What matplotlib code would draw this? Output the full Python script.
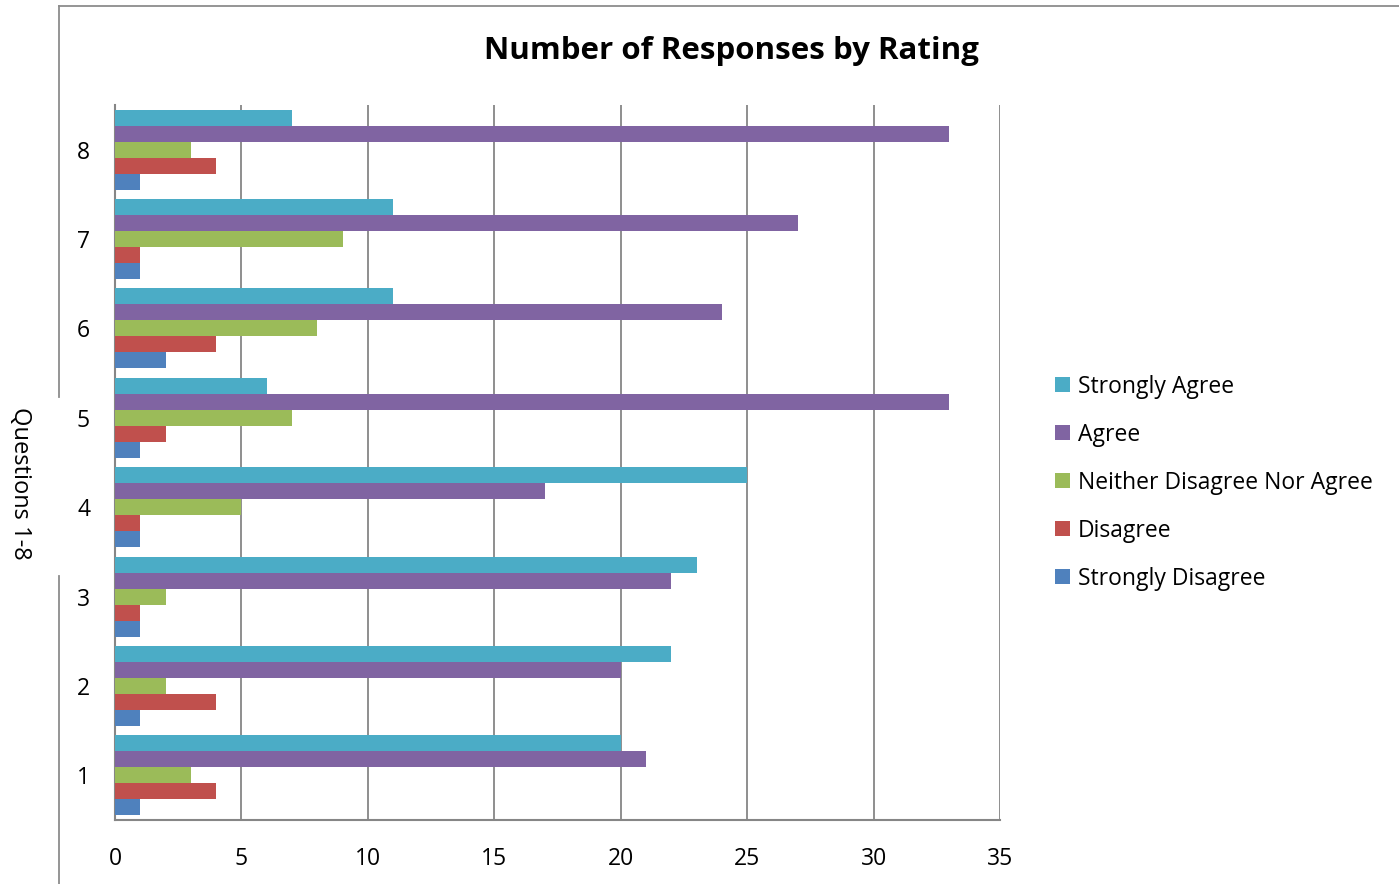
import matplotlib.pyplot as plt
import numpy as np
from matplotlib.lines import Line2D

questions = ["1", "2", "3", "4", "5", "6", "7", "8"]
series_names = ["Strongly Disagree", "Disagree", "Neither Disagree Nor Agree", "Agree", "Strongly Agree"]
strongly_disagree = [1, 1, 1, 1, 1, 2, 1, 1]
disagree = [4, 4, 1, 1, 2, 4, 1, 4]
neither = [3, 2, 2, 5, 7, 8, 9, 3]
agree = [21, 20, 22, 17, 33, 24, 27, 33]
strongly_agree = [20, 22, 23, 25, 6, 11, 11, 7]
colors = ["#4F81BD", "#C0504D", "#9BBB59", "#8064A2", "#4BACC6"]
x_ticks = [0, 5, 10, 15, 20, 25, 30, 35]

plt.rcParams['font.family'] = ['Open Sans', 'DejaVu Sans']

W, H = 1399, 884
fig = plt.figure(figsize=(W / 100, H / 100), dpi=100)
ax = fig.add_axes([115 / W, (H - 820) / H, (1000 - 115) / W, (820 - 105) / H])

data = [strongly_disagree, disagree, neither, agree, strongly_agree]
y = np.arange(len(questions))
bh = 0.179
handles = []
for i, (vals, c, name) in enumerate(zip(data, colors, series_names)):
    b = ax.barh(y + (i - 2) * bh, vals, height=bh, color=c, label=name, zorder=3)
    handles.append(b)

ax.set_xlim(0, 35)
ax.set_ylim(-0.5, 7.5)
ax.set_xticks(x_ticks)
ax.set_yticks(y)
ax.set_yticklabels(questions)
ax.tick_params(axis='both', length=0, labelsize=16.5, colors='black')
ax.tick_params(axis='x', pad=19.5)
ax.tick_params(axis='y', pad=18)
ax.xaxis.grid(True, color='#868686', linewidth=1.3, zorder=0)
for s in ['top', 'right']:
    ax.spines[s].set_visible(False)
for s in ['left', 'bottom']:
    ax.spines[s].set_color('#868686')
    ax.spines[s].set_linewidth(1.5)

fig.text(731 / W, 1 - 51 / H, "Number of Responses by Rating", ha='center', va='center',
         fontsize=22.5, fontweight='bold')
fig.text(20 / W, 1 - 483 / H, "Questions 1-8", rotation=-90, ha='center', va='center', fontsize=17)

leg = fig.legend(handles[::-1], series_names[::-1], loc='upper left',
                 bbox_to_anchor=(1034 / W, 1 - 354 / H), frameon=False, fontsize=16.5,
                 handlelength=0.65, handleheight=0.65, handletextpad=0.35, labelspacing=1.05)

# outer chart border
lc = '#8c8c8c'
fig.add_artist(Line2D([59 / W, 1], [1 - 6 / H, 1 - 6 / H], color=lc, lw=1.3, transform=fig.transFigure))
fig.add_artist(Line2D([59 / W, 59 / W], [1 - 6 / H, 1 - 397 / H], color=lc, lw=1.3, transform=fig.transFigure))
fig.add_artist(Line2D([59 / W, 59 / W], [1 - 576 / H, 0], color=lc, lw=1.3, transform=fig.transFigure))

fig.savefig("out.png", dpi=100)
